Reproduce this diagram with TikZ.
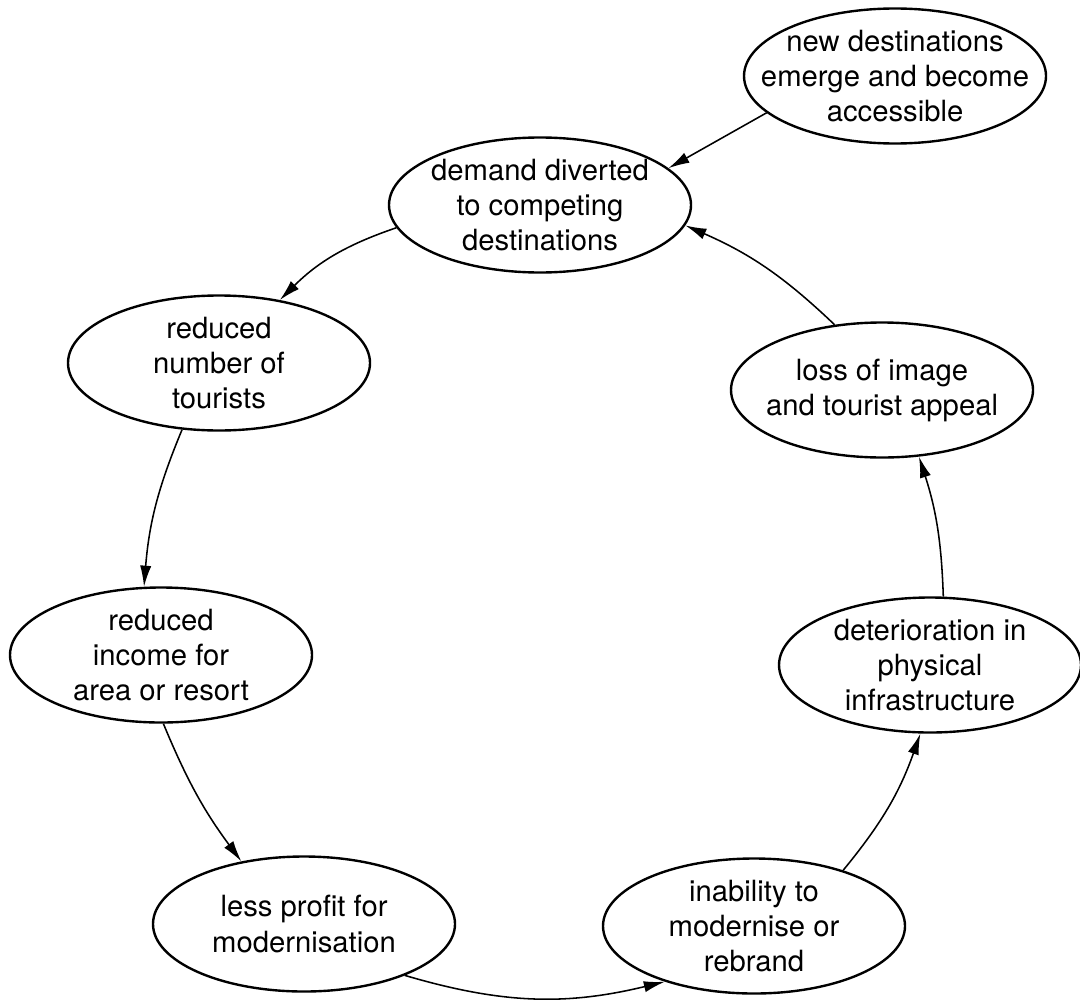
\documentclass[tikz,border=0pt]{standalone}
\usepackage{fontspec}
\setmainfont{TeX Gyre Heros}
\usetikzlibrary{shapes.geometric,arrows.meta}

\begin{document}
\begin{tikzpicture}[
  cyclebox/.style={ellipse,draw,line width=1.7pt,minimum width=7.55cm,minimum height=3.375cm,
    inner xsep=-1.2cm,inner ysep=-0.4cm,align=center,font=\fontsize{20.8}{24.9}\selectfont},
  flow/.style={line width=1.1pt,-{Latex[length=15pt,width=8pt]}}]
\useasboundingbox (0,0) rectangle (27,-25);
\node[cyclebox] (new) at (22.375,-1.9) {new destinations\\emerge and become\\accessible};
\node[cyclebox] (demand) at (13.5,-5.125) {demand diverted\\to competing\\destinations};
\node[cyclebox] (tourists) at (5.475,-9.075) {reduced\\number of\\tourists};
\node[cyclebox] (income) at (4.025,-16.375) {reduced\\income for\\area or resort};
\node[cyclebox] (profit) at (7.6,-23.1) {less profit for\\modernisation};
\node[cyclebox] (inability) at (18.85,-23.15) {inability to\\modernise or\\rebrand};
\node[cyclebox] (infra) at (23.25,-16.625) {deterioration in\\physical\\infrastructure};
\node[cyclebox] (image) at (22.05,-9.75) {loss of image\\and tourist appeal};
\draw[flow] (new.196) -- (demand.16);
\draw[flow] (demand.189) to[bend right=13] (tourists.46);
\draw[flow] (tourists.241) to[bend right=9] (income.104);
\draw[flow] (income.272) to[bend right=7] (profit.135);
\draw[flow] (profit.333) to[bend right=15] (inability.212);
\draw[flow] (inability.32) to[bend right=10] (infra.262);
\draw[flow] (infra.79) to[bend right=8] (image.299);
\draw[flow] (image.126) to[bend right=10] (demand.352);
\end{tikzpicture}
\end{document}
